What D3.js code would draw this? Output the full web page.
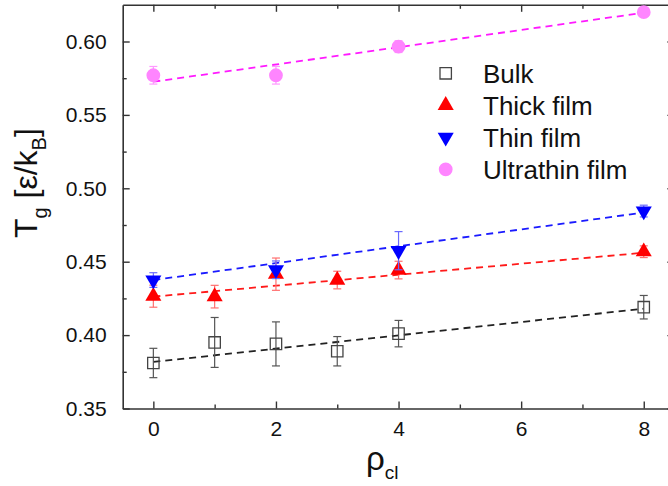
<!DOCTYPE html>
<html>
<head>
<meta charset="utf-8">
<script src="https://cdn.jsdelivr.net/npm/d3@7"></script>
<style>
  html, body { margin: 0; padding: 0; background: #fff; }
  svg { display: block; font-family: "Liberation Sans", Arial, sans-serif; }
</style>
</head>
<body>
<svg id="chart" width="668" height="486"></svg>
<script>
// Glass transition temperature vs. crosslink density for four systems
const bulkRho = [0, 1, 2, 3, 4, 8];
const bulkTg = [0.381, 0.395, 0.394, 0.389, 0.401, 0.419];
const bulkErr = [0.010, 0.017, 0.015, 0.010, 0.009, 0.008];

const thickRho = [0, 1, 2, 3, 4, 8];
const thickTg = [0.4265, 0.4262, 0.4415, 0.4375, 0.4443, 0.4568];
const thickErr = [0.0075, 0.0077, 0.011, 0.006, 0.006, 0.004];

const thinRho = [0, 2, 4, 8];
const thinTg = [0.4375, 0.4445, 0.4575, 0.4845];
const thinErr = [0.005, 0.006, 0.013, 0.004];

const ultraRho = [0, 2, 4, 8];
const ultraTg = [0.577, 0.577, 0.5965, 0.620];
const ultraErr = [0.006, 0.006, 0.004, 0.003];

// Linear fits: value at rho = 0 and rho = 8
const fitRho = [0, 8];
const bulkFit = [0.3817, 0.418];
const thickFit = [0.4262, 0.4561];
const thinFit = [0.4375, 0.4835];
const ultraFit = [0.5726, 0.6196];

const xMajorTicks = [0, 2, 4, 6, 8];
const xMinorTicks = [1, 3, 5, 7];
const yMajorTicks = [0.35, 0.40, 0.45, 0.50, 0.55, 0.60];
const yMinorTicks = [0.375, 0.425, 0.475, 0.525, 0.575];

const legendLabels = ["Bulk", "Thick film", "Thin film", "Ultrathin film"];

const svg = d3.select("#chart");
const plotLeft = 122.7, plotRight = 674.4, plotTop = 4.8, plotBottom = 408.5;

const x = d3.scaleLinear().domain([-0.5, 8.5]).range([plotLeft, plotRight]);
const y = d3.scaleLinear().domain([0.35, 0.625]).range([plotBottom, plotTop]);

const axisColor = "#333";
const majorLen = 7, minorLen = 4;

function styleAxis(g) {
  g.select(".domain").attr("stroke", axisColor).attr("stroke-width", 1.6);
  g.selectAll(".tick line").attr("stroke", axisColor).attr("stroke-width", 1.4);
  g.selectAll("text").attr("fill", "#111").attr("font-size", 21)
    .attr("font-family", "Liberation Sans, Arial, sans-serif");
}

function addAxis(axisFn, scale, transform, major, minor, labelled, fmt, pad) {
  const a = svg.append("g").attr("transform", transform)
    .call(axisFn(scale).tickValues(major).tickSizeInner(-majorLen).tickSizeOuter(0)
      .tickPadding(pad).tickFormat(labelled ? fmt : ""));
  styleAxis(a);
  svg.append("g").attr("transform", transform)
    .call(axisFn(scale).tickValues(minor).tickSizeInner(-minorLen).tickSizeOuter(0).tickFormat(""))
    .call(g => { g.select(".domain").remove(); styleAxis(g); });
}

addAxis(d3.axisBottom, x, `translate(0,${plotBottom})`, xMajorTicks, xMinorTicks, true, d3.format("d"), 13);
addAxis(d3.axisTop, x, `translate(0,${plotTop})`, xMajorTicks, xMinorTicks, false, null, 3);
addAxis(d3.axisLeft, y, `translate(${plotLeft},0)`, yMajorTicks, yMinorTicks, true, d3.format(".2f"), 16);
addAxis(d3.axisRight, y, `translate(${plotRight},0)`, yMajorTicks, yMinorTicks, false, null, 3);

// series definitions
const series = [
  { rho: bulkRho, tg: bulkTg, err: bulkErr, fit: bulkFit, line: "#222", errColor: "#555",
    symbol: d3.symbolSquare, size: 130, fill: "none", stroke: "#444", rotate: 0 },
  { rho: thickRho, tg: thickTg, err: thickErr, fit: thickFit, line: "#ff1a1a", errColor: "#ff7070",
    symbol: d3.symbolTriangle, size: 112, fill: "#ff0000", stroke: "none", rotate: 0 },
  { rho: thinRho, tg: thinTg, err: thinErr, fit: thinFit, line: "#1a1aff", errColor: "#6a6aff",
    symbol: d3.symbolTriangle, size: 112, fill: "#0000ff", stroke: "none", rotate: 180 },
  { rho: ultraRho, tg: ultraTg, err: ultraErr, fit: ultraFit, line: "#ff1aff", errColor: "#ff99ff",
    symbol: d3.symbolCircle, size: 150, fill: "#ff85ff", stroke: "none", rotate: 0 }
];

const line = d3.line().x(d => x(d[0])).y(d => y(d[1]));
const capW = 4;

// fitted dashed lines
series.forEach(s => {
  svg.append("path")
    .datum(fitRho.map((r, i) => [r, s.fit[i]]))
    .attr("d", line)
    .attr("fill", "none")
    .attr("stroke", s.line)
    .attr("stroke-width", 1.8)
    .attr("stroke-dasharray", "7,5");
});

// error bars and markers
series.forEach(s => {
  const pts = s.rho.map((r, i) => ({ r, v: s.tg[i], e: s.err[i] }));
  const eg = svg.append("g").attr("stroke", s.errColor).attr("stroke-width", 1.2).attr("fill", "none");
  pts.forEach(p => {
    const cx = x(p.r), y0 = y(p.v - p.e), y1 = y(p.v + p.e);
    eg.append("line").attr("x1", cx).attr("x2", cx).attr("y1", y0).attr("y2", y1);
    eg.append("line").attr("x1", cx - capW).attr("x2", cx + capW).attr("y1", y0).attr("y2", y0);
    eg.append("line").attr("x1", cx - capW).attr("x2", cx + capW).attr("y1", y1).attr("y2", y1);
  });
  svg.append("g").selectAll("path").data(pts).join("path")
    .attr("d", d3.symbol().type(s.symbol).size(s.size))
    .attr("transform", p => `translate(${x(p.r)},${y(p.v)}) rotate(${s.rotate})`)
    .attr("fill", s.fill)
    .attr("stroke", s.stroke)
    .attr("stroke-width", 1.3);
});

// legend
const legend = svg.append("g");
const legX = 445.7, legY0 = 73.3, legDy = 32;
series.forEach((s, i) => {
  const ly = legY0 + i * legDy;
  legend.append("path")
    .attr("d", d3.symbol().type(s.symbol).size(s.size)())
    .attr("transform", `translate(${legX},${ly}) rotate(${s.rotate})`)
    .attr("fill", s.fill)
    .attr("stroke", s.stroke)
    .attr("stroke-width", 1.3);
  legend.append("text")
    .attr("x", 483)
    .attr("y", ly + 9.5)
    .attr("font-size", 26)
    .attr("fill", "#111")
    .text(legendLabels[i]);
});

// axis titles
const xt = svg.append("text")
  .attr("x", 366)
  .attr("y", 470)
  .attr("fill", "#111")
  .attr("font-size", 33);
xt.append("tspan").text("ρ");
xt.append("tspan").attr("font-size", 19).attr("dy", 9).text("cl");

const yt = svg.append("text")
  .attr("transform", "translate(37,238) rotate(-90)")
  .attr("fill", "#111")
  .attr("font-size", 32);
yt.append("tspan").text("T");
yt.append("tspan").attr("font-size", 20).attr("dy", 10).text("g");
yt.append("tspan").attr("dy", -10).text(" [ε/k");
yt.append("tspan").attr("font-size", 20).attr("dy", 9).text("B");
yt.append("tspan").attr("dy", -9).text("]");
</script>
</body>
</html>
